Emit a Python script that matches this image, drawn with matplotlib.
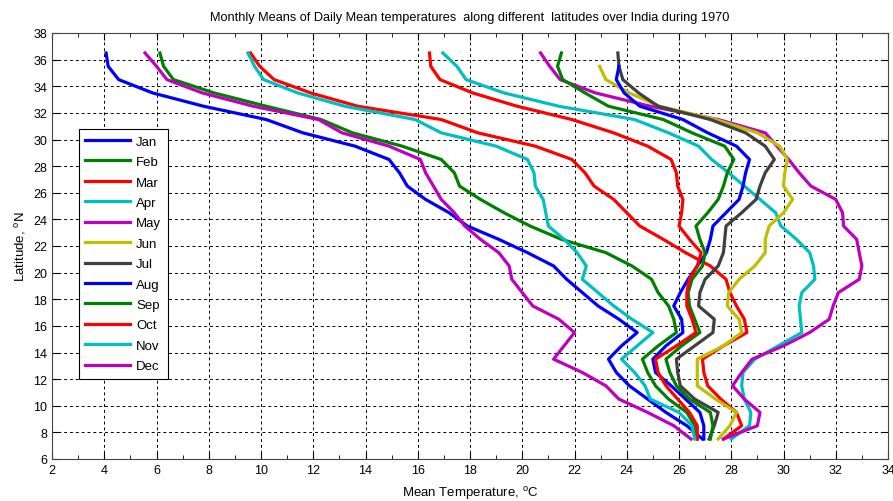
import numpy as np
import matplotlib
matplotlib.use("Agg")
import matplotlib.pyplot as plt

plt.rcParams['font.family'] = ['Liberation Sans', 'DejaVu Sans']
plt.rcParams['mathtext.fontset'] = 'custom'
plt.rcParams['mathtext.rm'] = 'Liberation Sans'

# latitudes, north to south
lat = np.arange(36.5, 7.0, -1.0)
nan = np.nan

jan = [4.07, 4.15, 4.55, 5.85, 7.8, 10.2, 11.6, 13.6, 14.9, 15.3, 15.6, 16.3, 17.2, 17.9, 19.1,
       20.2, 21.2, 21.7, 22.3, 22.9, 23.7, 24.4, 23.8, 23.3, 23.6, 24.1, 24.8, 25.5, 26.3, 26.9]
feb = [6.13, 6.27, 6.65, 8.2, 10.2, 12.3, 13.5, 15.4, 16.9, 17.4, 17.6, 18.4, 19.3, 20.3, 21.5,
       23.2, 24.2, 24.95, 25.2, 25.6, 25.8, 25.9, 25.2, 24.6, 24.8, 25.1, 25.6, 26.3, 26.6, 26.7]
mar = [9.6, 9.95, 10.5, 11.9, 13.7, 16.9, 18.3, 20.5, 21.9, 22.4, 22.75, 23.5, 24.0, 24.5, 25.4,
       26.25, 27.2, 27.8, 27.95, 28.2, 28.5, 28.6, 27.7, 26.9, 26.95, 27.1, 27.6, 28.2, 28.4, 27.7]
apr = [16.96, 17.5, 17.85, 19.3, 21.4, 24.3, 25.6, 26.75, 27.25, 27.9, 28.5, 29.1, 29.7, 29.9, 30.5,
       31.0, 31.15, 31.2, 30.7, 30.6, 30.65, 30.7, 29.8, 28.9, 28.45, 28.4, 28.5, 28.75, 28.7, 28.0]
may = [20.7, 21.05, 21.45, 22.8, 24.9, 27.5, 29.3, 29.75, 30.2, 30.6, 31.05, 32.0, 32.26, 32.3, 32.8,
       32.9, 33.0, 32.9, 32.1, 31.9, 31.75, 31.0, 30.0, 28.8, 28.4, 28.05, 28.5, 29.1, 29.0, 27.7]
jun = [nan, 22.96, 23.2, 24.1, 25.25, 27.4, 29.0, 29.85, 30.15, 30.05, 30.0, 30.35, 30.0, 29.45, 29.3,
       29.3, 28.9, 28.3, 27.9, 27.85, 28.3, 28.4, 27.7, 26.7, 26.7, 26.7, 27.4, 28.2, 27.95, 27.5]
jul = [23.66, 23.7, 23.85, 24.45, 25.2, 27.2, 28.55, 29.3, 29.65, 29.3, 29.1, 28.95, 28.4, 27.8, 27.75,
       27.7, 27.5, 27.0, 26.8, 26.75, 27.35, 27.3, 26.6, 25.9, 25.95, 26.05, 26.6, 27.5, 27.35, 27.15]
aug = [nan, 23.7, 23.6, 23.9, 24.5, 26.15, 27.1, 28.2, 28.7, 28.55, 28.45, 28.3, 27.8, 27.3, 27.2,
       27.05, 26.7, 26.35, 26.05, 25.8, 26.1, 26.15, 25.5, 25.0, 25.1, 25.7, 26.25, 26.8, 26.95, 26.95]
sep = [21.5, 21.35, 21.55, 22.4, 23.3, 25.4, 26.5, 27.75, 28.1, 27.85, 27.7, 27.5, 27.1, 26.65, 26.8,
       27.0, 26.9, 26.5, 26.35, 26.4, 26.6, 26.8, 26.1, 25.5, 25.65, 25.9, 26.4, 27.2, 27.3, 27.2]
oct_ = [16.45, 16.5, 16.85, 18.1, 19.8, 21.9, 23.5, 24.8, 25.7, 25.9, 25.95, 26.15, 26.1, 26.0, 26.4,
        26.85, 26.7, 26.4, 26.3, 26.3, 26.5, 26.65, 25.9, 25.1, 25.2, 25.5, 25.95, 26.4, 26.7, 26.7]
nov = [9.5, 9.75, 10.1, 11.4, 13.2, 15.9, 16.9, 19.0, 20.2, 20.45, 20.5, 20.8, 20.9, 21.0, 21.6,
       22.1, 22.45, 22.3, 22.9, 23.5, 24.2, 25.0, 24.4, 23.8, 24.3, 24.7, 24.9, 26.0, 26.5, 26.6]
dec = [5.56, 6.0, 6.4, 7.75, 9.7, 12.2, 13.1, 14.9, 16.1, 16.3, 16.6, 16.9, 17.4, 17.8, 18.4,
       19.1, 19.5, 19.6, 20.0, 20.4, 21.4, 22.0, 21.6, 21.2, 22.3, 23.2, 23.7, 24.8, 25.8, 26.46]

months = ['Jan', 'Feb', 'Mar', 'Apr', 'May', 'Jun', 'Jul', 'Aug', 'Sep', 'Oct', 'Nov', 'Dec']
series = [jan, feb, mar, apr, may, jun, jul, aug, sep, oct_, nov, dec]

# matlab default line colours, cycled
cols = [(0, 0, 1), (0, 0.5, 0), (1, 0, 0), (0, 0.75, 0.75), (0.75, 0, 0.75),
        (0.75, 0.75, 0), (0.25, 0.25, 0.25)]

fig = plt.figure(figsize=(8.93, 5.02), dpi=100)
ax = fig.add_axes([52 / 893, 1 - 460 / 502, 836 / 893, 426 / 502])

for i, (name, vals) in enumerate(zip(months, series)):
    ax.plot(vals, lat, color=cols[i % 7], lw=2.3, label=name)

ax.set_xlim(2, 34)
ax.set_ylim(6, 38)
ax.set_xticks(np.arange(2, 35, 2))
ax.set_xticks(np.arange(3, 34, 2), minor=True)
ax.set_yticks(np.arange(6, 39, 2))
ax.tick_params(which='both', direction='in', top=True, right=True, labelsize=9)
ax.tick_params(which='major', length=5)
ax.tick_params(which='minor', length=3)
ax.grid(True, color='black', linestyle=(0, (3, 3)), lw=0.7)
for s in ax.spines.values():
    s.set_color('#444444')

ax.set_title('Monthly Means of Daily Mean temperatures  along different  latitudes over India during 1970',
             fontsize=9.2, pad=9)
ax.set_xlabel(r'Mean Temperature, $^\mathrm{o}$C', fontsize=9.5, labelpad=6)
ax.set_ylabel(r'Latitude, $^\mathrm{o}$N', fontsize=9.5, labelpad=4)

leg = ax.legend(loc='upper left', bbox_to_anchor=(0.032, 0.775), borderaxespad=0,
                fontsize=9.5, handlelength=3.4, handletextpad=0.45, labelspacing=0.62,
                fancybox=False, framealpha=1, edgecolor='black', borderpad=0.5)
leg.get_frame().set_linewidth(0.8)

fig.savefig('out.png', dpi=100)
